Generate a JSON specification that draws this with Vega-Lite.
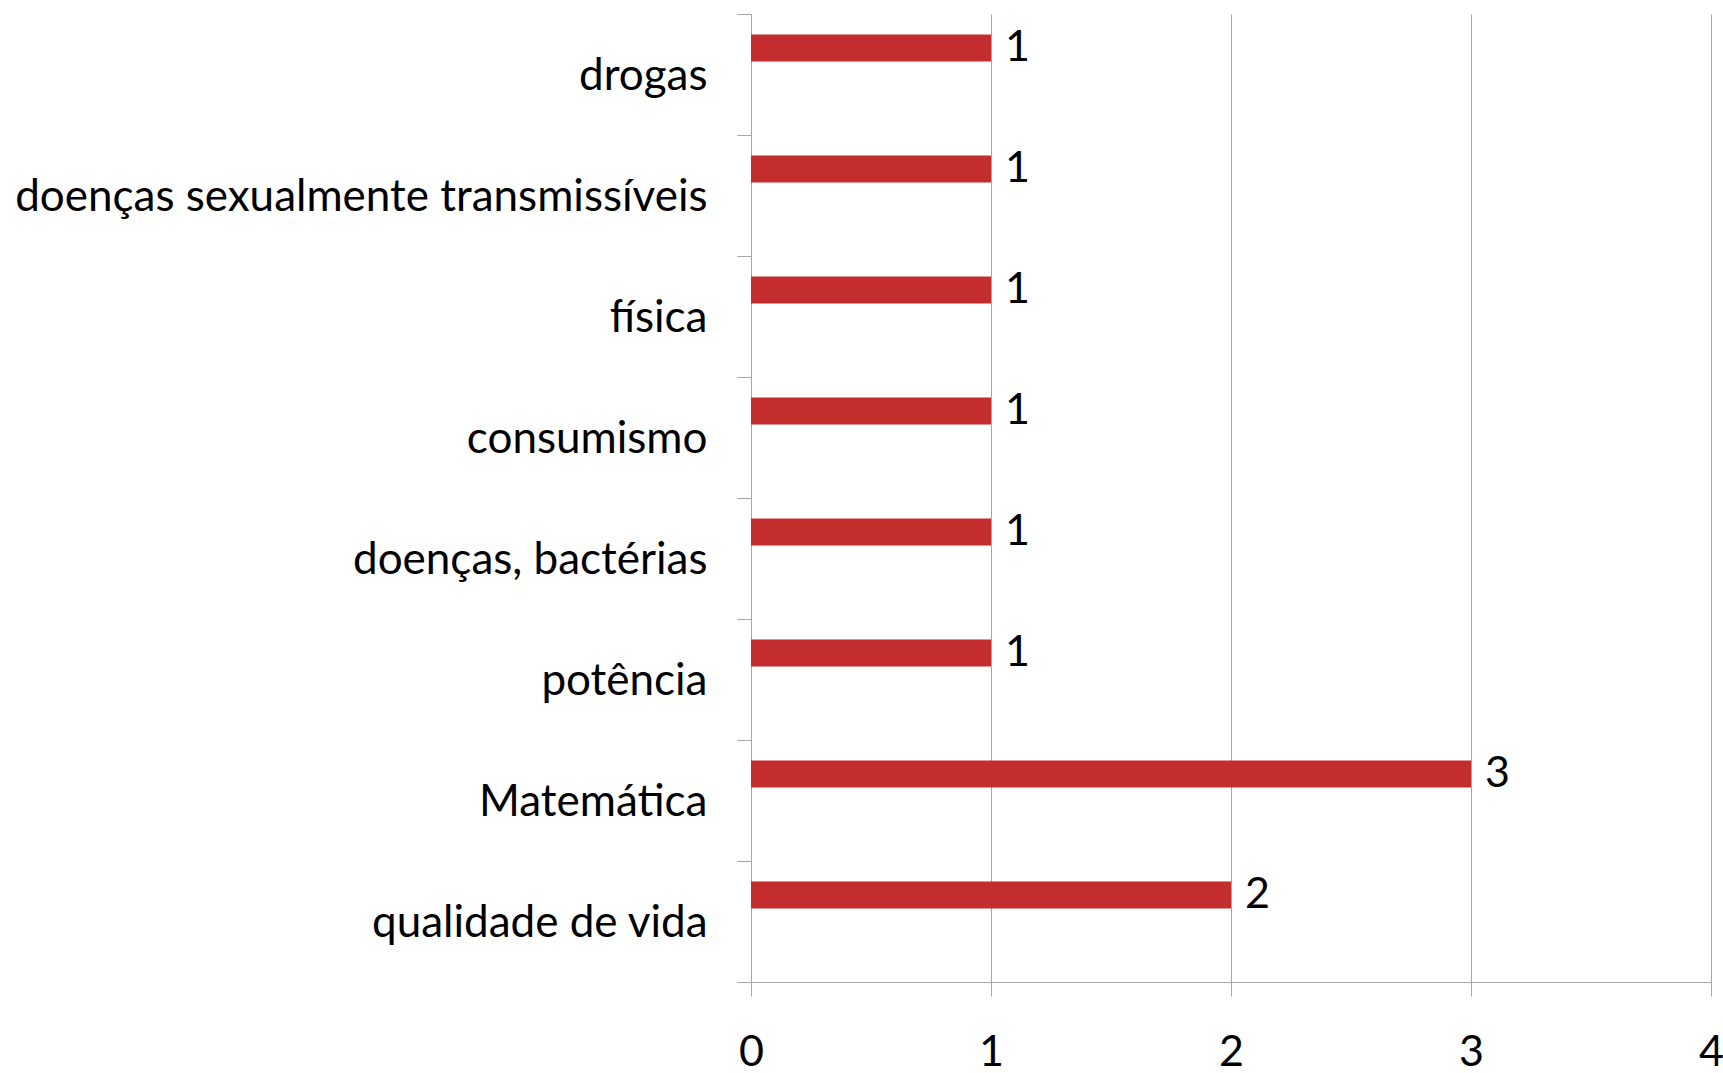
{
  "$schema": "https://vega.github.io/schema/vega-lite/v6.json",
  "autosize": "none",
  "width": 960,
  "height": 968,
  "padding": {"left": 751, "top": 14, "right": 12, "bottom": 91},
  "background": "white",
  "config": {"view": {"stroke": null}, "font": "Lato"},
  "data": {"values": [
    {"tema": "drogas", "n": 1},
    {"tema": "doenças sexualmente transmissíveis", "n": 1},
    {"tema": "física", "n": 1},
    {"tema": "consumismo", "n": 1},
    {"tema": "doenças, bactérias", "n": 1},
    {"tema": "potência", "n": 1},
    {"tema": "Matemática", "n": 3},
    {"tema": "qualidade de vida", "n": 2}
  ]},
  "encoding": {
    "y": {
      "field": "tema", "type": "nominal", "sort": null,
      "scale": {"paddingInner": 0, "paddingOuter": 0},
      "axis": {"title": null, "tickBand": "extent", "tickSize": 14, "tickColor": "#a6a6a6", "domainColor": "#a6a6a6", "labelFontSize": 44, "labelColor": "black", "labelPadding": 30, "labelLimit": 0, "labelOverlap": false, "grid": false, "labelFont": "Lato", "labelOffset": 2}
    }
  },
  "layer": [
    {
      "mark": {"type": "bar", "color": "#c32d2e", "height": 27, "yOffset": -26.5},
      "encoding": {
        "x": {"field": "n", "type": "quantitative", "scale": {"domain": [0, 4], "nice": false},
          "axis": {"title": null, "values": [0, 1, 2, 3, 4], "format": "d", "grid": true, "gridColor": "#a6a6a6", "tickColor": "#a6a6a6", "domainColor": "#a6a6a6", "tickSize": 14, "labelFontSize": 43, "labelColor": "black", "labelPadding": 35, "labelFlush": false, "labelOverlap": false, "labelFont": "Lato"}}
      }
    },
    {
      "mark": {"type": "text", "align": "left", "baseline": "middle", "dx": 14, "yOffset": -26.5, "fontSize": 43, "color": "black", "font": "Lato"},
      "encoding": {
        "x": {"field": "n", "type": "quantitative"},
        "text": {"field": "n", "type": "quantitative", "format": "d"}
      }
    }
  ]
}
